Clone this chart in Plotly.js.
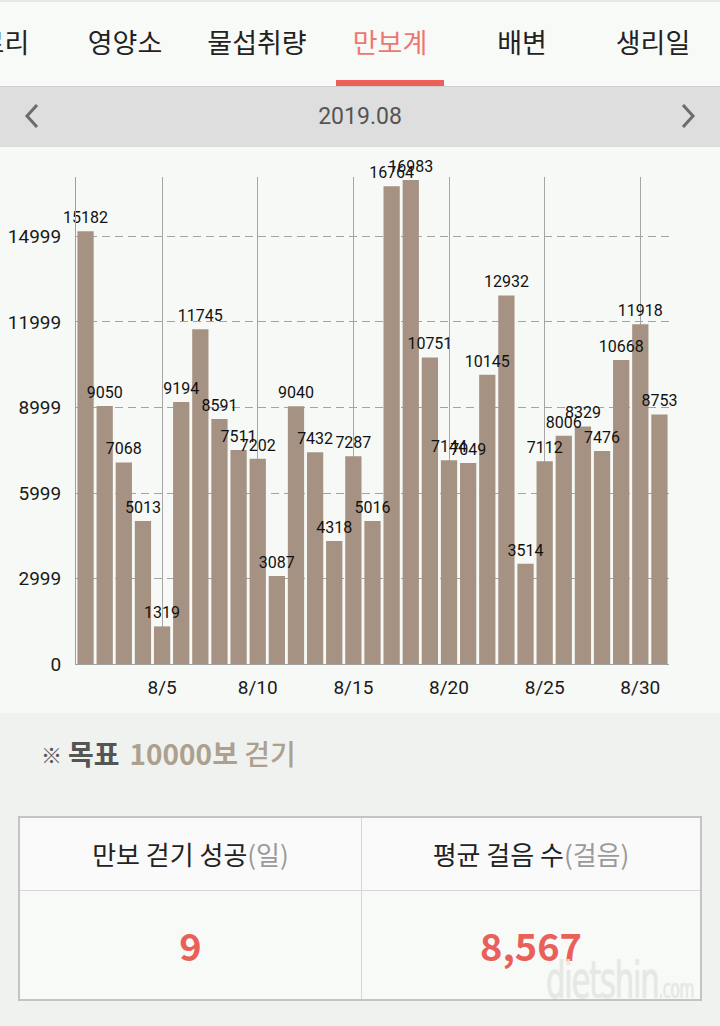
<!DOCTYPE html>
<html>
<head>
<meta charset="utf-8">
<script src="https://cdn.plot.ly/plotly-3.0.1.min.js"></script>
<style>
  html, body { margin:0; padding:0; }
  body { width:720px; height:1026px; overflow:hidden; position:relative; background:#eff2ee;
         font-family:'Noto Sans CJK KR','Noto Sans',sans-serif; }
  .abs { position:absolute; }
  #tabs { left:0; top:0; width:720px; height:86px; background:#f8faf7; border-top:2px solid #e6e8e5; box-sizing:border-box; }
  .tab { position:absolute; top:19px; height:42px; line-height:42px; font-size:27px; color:#222; white-space:nowrap; transform:translateX(-50%); }
  .tab.active { color:#ef7772; }
  #underline { left:336px; top:80px; width:108px; height:6px; background:#ee5f59; }
  #datebar { left:0; top:86px; width:720px; height:61px; background:#dedede; border-top:1px solid #cfcfcf; box-sizing:border-box; }
  #datetext { left:0; width:720px; top:100px; height:34px; line-height:34px; text-align:center; font-family:Roboto,sans-serif; font-size:23px; color:#555; }
  #chart { left:0; top:147px; width:720px; height:566px; background:#f7f9f6; }
  #goal { left:41px; top:732px; height:42px; line-height:42px; font-size:28px; white-space:nowrap; }
  #goal .mark { font-size:21px; font-weight:700; color:#555; vertical-align:2px; margin-right:6px; }
  #goal .lab { color:#555; font-weight:700; margin-right:10px; }
  #goal .tgt { color:#ada08e; font-weight:700; }
  #goal .tgt2 { color:#ada08e; font-weight:500; }
  #table { left:18px; top:816px; width:684px; height:185px; border:2px solid #c4c4c4; box-sizing:border-box; background:#f8faf7; }
  .hcell { position:absolute; top:0; height:73px; background:#fafafa; border-bottom:1px solid #d6d6d6; box-sizing:border-box;
           line-height:72px; text-align:center; font-size:26px; color:#222; white-space:nowrap; }
  .hcell .unit { color:#9a9a9a; }
  .vcell { position:absolute; top:73px; height:108px; line-height:108px; text-align:center; font-size:38px; font-weight:700; color:#e9605b; }
  #divider { left:341px; top:0; width:1px; height:181px; background:#d6d6d6; }
  #wm { left:546px; top:950px; font-family:'Liberation Sans Narrow','DejaVu Sans Condensed',sans-serif; color:rgba(232,235,231,0.85);
        font-size:52px; letter-spacing:-2px; white-space:nowrap; text-shadow:0 0 1px rgba(185,185,185,0.45);
        transform:scaleX(0.66); transform-origin:0 0; }
  #wm small { font-size:26px; letter-spacing:-1px; }
</style>
</head>
<body>
<div id="tabs" class="abs">
  <div class="tab" style="left:-8px">칼로리</div>
  <div class="tab" style="left:125px">영양소</div>
  <div class="tab" style="left:257px">물섭취량</div>
  <div class="tab active" style="left:390px">만보계</div>
  <div class="tab" style="left:522px">배변</div>
  <div class="tab" style="left:653px">생리일</div>
</div>
<div id="underline" class="abs"></div>
<div id="datebar" class="abs"></div>
<svg class="abs" style="left:0;top:86px" width="720" height="61">
  <polyline points="37,19 27,30 37,41" fill="none" stroke="#6b6b6b" stroke-width="3"/>
  <polyline points="683,19 693,30 683,41" fill="none" stroke="#6b6b6b" stroke-width="3"/>
</svg>
<div id="datetext" class="abs">2019.08</div>

<div id="chart" class="abs"></div>

<div id="goal" class="abs"><span class="mark">※</span><span class="lab">목표</span><span class="tgt">10000보</span> <span class="tgt2">걷기</span></div>

<div id="table" class="abs">
  <div class="hcell" style="left:0;width:341px">만보 걷기 성공<span class="unit">(일)</span></div>
  <div class="hcell" style="left:342px;width:338px">평균 걸음 수<span class="unit">(걸음)</span></div>
  <div id="divider" class="abs"></div>
  <div class="vcell" style="left:0;width:341px">9</div>
  <div class="vcell" style="left:342px;width:338px">8,567</div>
</div>
<div id="wm" class="abs">dietshin<small>.com</small></div>

<script>
// ---- data ----
const days = [1,2,3,4,5,6,7,8,9,10,11,12,13,14,15,16,17,18,19,20,21,22,23,24,25,26,27,28,29,30,31];
const steps = [15182,9050,7068,5013,1319,9194,11745,8591,7511,7202,3087,9040,7432,4318,7287,5016,
               16764,16983,10751,7144,7049,10145,12932,3514,7112,8006,8329,7476,10668,11918,8753];
const xTickVals = [5,10,15,20,25,30];
const xTickText = ['8/5','8/10','8/15','8/20','8/25','8/30'];
const yTickVals = [0,2999,5999,8999,11999,14999];
const yTickText = ['0','2999','5999','8999','11999','14999'];

const bars = {
  type:'bar',
  x: days,
  y: steps,
  marker:{color:'#a69282', line:{width:0}},
  hoverinfo:'none'
};

// value labels drawn in a layer above all bars
const labels = {
  type:'scatter',
  mode:'markers+text',
  x: days,
  y: steps,
  text: steps.map(String),
  textposition:'top center',
  marker:{size:5, color:'rgba(0,0,0,0)'},
  cliponaxis:false,
  textfont:{family:'Roboto, sans-serif', size:16, color:'#111'},
  hoverinfo:'none'
};

const layout = {
  width:720, height:566,
  margin:{l:76, r:51, t:30, b:49},
  paper_bgcolor:'#f7f9f6',
  plot_bgcolor:'#f7f9f6',
  showlegend:false,
  bargap:0.15,
  font:{family:'Roboto, sans-serif', size:19, color:'#1a1a1a'},
  xaxis:{
    range:[0.5,31.5],
    tickmode:'array', tickvals:xTickVals, ticktext:xTickText,
    showgrid:true, gridcolor:'#a6a6a6', gridwidth:1,
    showline:true, linecolor:'#a0a0a0', linewidth:1,
    zeroline:false,
    ticks:'outside', ticklen:6, tickcolor:'rgba(0,0,0,0)',
    tickfont:{family:'Roboto, sans-serif', size:19, color:'#1a1a1a'}
  },
  yaxis:{
    range:[0,17085],
    tickmode:'array', tickvals:yTickVals, ticktext:yTickText,
    showgrid:true, gridcolor:'#a3a3a3', gridwidth:1, griddash:'8px,5px',
    showline:true, linecolor:'#a0a0a0', linewidth:1,
    zeroline:false,
    ticks:'outside', ticklen:10, tickcolor:'rgba(0,0,0,0)',
    tickfont:{family:'Roboto, sans-serif', size:19, color:'#1a1a1a'}
  }
};

Plotly.newPlot('chart', [bars, labels], layout, {staticPlot:true, displayModeBar:false});
</script>
</body>
</html>
